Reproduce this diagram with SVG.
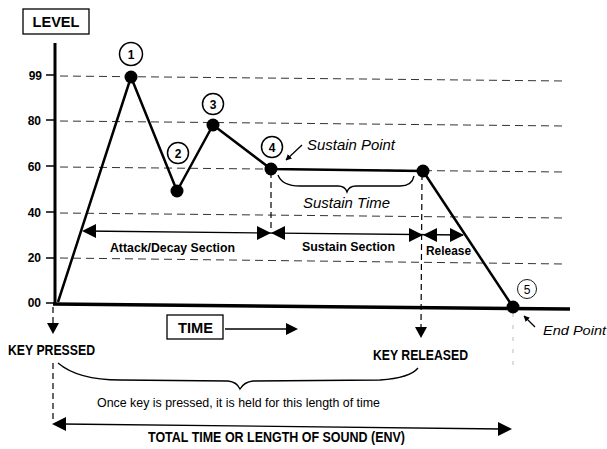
<svg xmlns="http://www.w3.org/2000/svg" width="607" height="449" viewBox="0 0 607 449">
<defs>
<style>
.t{font-family:"Liberation Sans",Arial,sans-serif;fill:#000}
.b{font-weight:bold}
.i{font-style:italic}
.grid{stroke:#333;stroke-width:1;stroke-dasharray:8 5;fill:none}
.vd{stroke:#000;stroke-width:1.2;stroke-dasharray:6 4;fill:none}
.env{stroke:#000;stroke-width:2.5;fill:none;stroke-linejoin:round}
.ln{stroke:#000;stroke-width:1.3;fill:none}
.dot{fill:#000}
.cn{fill:#fff;stroke:#000;stroke-width:1.5}
.tri{fill:#000}
</style>
<marker id="ah" viewBox="0 0 10 10" refX="9" refY="5" markerWidth="6" markerHeight="6" orient="auto-start-reverse" markerUnits="userSpaceOnUse">
<path d="M0,0 L10,5 L0,10 Z" fill="#000"/>
</marker>
</defs>
<rect width="607" height="449" fill="#fff"/>

<g id="axes">
<line x1="55" y1="43" x2="55" y2="305" stroke="#000" stroke-width="3"/>
<line x1="53" y1="304" x2="570" y2="309" stroke="#000" stroke-width="3.5"/>
<g stroke="#000" stroke-width="1.5">
<line x1="46" y1="75" x2="54" y2="75"/>
<line x1="46" y1="120" x2="54" y2="120"/>
<line x1="46" y1="166" x2="54" y2="166"/>
<line x1="46" y1="212" x2="54" y2="212"/>
<line x1="46" y1="258" x2="54" y2="258"/>
<line x1="46" y1="303" x2="54" y2="303"/>
</g>
<g class="t b" font-size="12" text-anchor="end">
<text x="42" y="80">99</text>
<text x="41" y="125">80</text>
<text x="41" y="171">60</text>
<text x="41" y="217">40</text>
<text x="41" y="262">20</text>
<text x="41" y="307">00</text>
</g>
<g class="grid">
<line x1="60" y1="76" x2="565" y2="81"/>
<line x1="60" y1="121" x2="565" y2="126"/>
<line x1="60" y1="167" x2="564" y2="172"/>
<line x1="60" y1="213" x2="564" y2="218"/>
<line x1="60" y1="258" x2="564" y2="264"/>
</g>
</g>

<g id="level-box">
<rect x="23" y="9" width="66" height="25" fill="#fff" stroke="#000" stroke-width="1.3"/>
<text class="t b" x="56" y="27" font-size="14" text-anchor="middle" textLength="47" lengthAdjust="spacingAndGlyphs">LEVEL</text>
</g>

<g id="connectors">
<polyline class="env" points="58,302 131,77 177,191 213,125 271,169 423,171 513,307"/>
<!-- vertical dashed guides -->
<line class="vd" x1="271" y1="172" x2="271" y2="228"/>
<line class="vd" x1="422" y1="174" x2="421" y2="328"/>
<line class="vd" x1="53" y1="307" x2="53" y2="323"/>
<line class="vd" x1="53" y1="363" x2="53" y2="420"/>
<line x1="513" y1="313" x2="513" y2="370" stroke="#bbb" stroke-width="1" stroke-dasharray="4 8"/>
<!-- section arrows -->
<line class="ln" x1="84" y1="231" x2="463" y2="235"/>
<path class="tri" d="M82,231 L96,224 L96,238 Z"/>
<path class="tri" d="M271,233 L257,226 L257,240 Z"/>
<path class="tri" d="M271,233 L285,226 L285,240 Z"/>
<path class="tri" d="M423,235 L409,228 L409,242 Z"/>
<path class="tri" d="M423,235 L437,228 L437,242 Z"/>
<path class="tri" d="M464,235 L450,228 L450,242 Z"/>
<!-- sustain point pointer -->
<line class="ln" x1="302" y1="145" x2="286" y2="160" marker-end="url(#ah)"/>
<!-- end point pointer -->
<line class="ln" x1="535" y1="327" x2="524" y2="316" marker-end="url(#ah)"/>
<!-- sustain time brace -->
<path class="ln" d="M278,175 Q282,186 300,186 L338,186 Q345,186 347,192 Q349,186 356,186 L400,186 Q412,186 414,176"/>
<!-- key pressed arrow -->
<path class="tri" d="M47,323 L59,323 L53,334 Z"/>
<!-- key released arrow -->
<path class="tri" d="M415,327 L427,327 L421,338 Z"/>
<!-- time arrow -->
<line class="ln" x1="225" y1="329" x2="288" y2="329"/>
<path class="tri" d="M298,329 L286,323 L286,335 Z"/>
<!-- hold brace -->
<path class="ln" d="M58,363 Q78,380 120,380 L228,381 Q237,382 240,389 Q244,382 253,381 L380,380 Q410,378 418,368"/>
<!-- total time arrow -->
<line class="ln" x1="62" y1="424" x2="502" y2="429"/>
<path class="tri" d="M52,424 L66,417 L66,431 Z"/>
<path class="tri" d="M512,429 L498,422 L498,436 Z"/>
</g>

<g id="p1"><circle class="dot" cx="131" cy="77" r="6.5"/><circle class="cn" cx="131" cy="54" r="11.5"/><text class="t b" x="131" y="58.5" font-size="12" text-anchor="middle">1</text></g>
<g id="p2"><circle class="dot" cx="177" cy="191" r="6.5"/><circle class="cn" cx="178" cy="153" r="10.5"/><text class="t b" x="178" y="157.5" font-size="12" text-anchor="middle">2</text></g>
<g id="p3"><circle class="dot" cx="213" cy="125" r="6.5"/><circle class="cn" cx="213" cy="104" r="10.5"/><text class="t b" x="213" y="108.5" font-size="12" text-anchor="middle">3</text></g>
<g id="p4"><circle class="dot" cx="271" cy="169" r="6.5"/><circle class="cn" cx="272" cy="147" r="10.5"/><text class="t b" x="272" y="151.5" font-size="12" text-anchor="middle">4</text></g>
<g id="p-release"><circle class="dot" cx="423" cy="171" r="6.5"/></g>
<g id="p5"><circle class="dot" cx="513" cy="307" r="6.5"/><circle cx="527" cy="289" r="9.5" fill="#fff" stroke="#000" stroke-width="0.9"/><text class="t" x="527" y="293.5" font-size="12" text-anchor="middle">5</text></g>

<g id="labels">
<text class="t i" x="307" y="150" font-size="14" textLength="88" lengthAdjust="spacingAndGlyphs">Sustain Point</text>
<text class="t i" x="303" y="208" font-size="14" textLength="87" lengthAdjust="spacingAndGlyphs">Sustain Time</text>
<text class="t b" x="110" y="252" font-size="13" textLength="125" lengthAdjust="spacingAndGlyphs">Attack/Decay Section</text>
<text class="t b" x="302" y="251" font-size="13" textLength="93" lengthAdjust="spacingAndGlyphs">Sustain Section</text>
<text class="t b" x="426" y="255" font-size="12" textLength="45" lengthAdjust="spacingAndGlyphs">Release</text>
<text class="t i" x="543" y="335" font-size="13" textLength="63" lengthAdjust="spacingAndGlyphs">End Point</text>
<text class="t b" x="8" y="355" font-size="15" textLength="87" lengthAdjust="spacingAndGlyphs">KEY PRESSED</text>
<text class="t b" x="373" y="360" font-size="15" textLength="95" lengthAdjust="spacingAndGlyphs">KEY RELEASED</text>
<text class="t" x="97" y="407" font-size="13" textLength="283" lengthAdjust="spacingAndGlyphs">Once key is pressed, it is held for this length of time</text>
<text class="t b" x="148" y="442" font-size="14" textLength="257" lengthAdjust="spacingAndGlyphs">TOTAL TIME OR LENGTH OF SOUND (ENV)</text>
</g>

<g id="time-box">
<rect x="167" y="315" width="56" height="24" fill="#fff" stroke="#000" stroke-width="1.3"/>
<text class="t b" x="178" y="333" font-size="14" textLength="35" lengthAdjust="spacingAndGlyphs">TIME</text>
</g>
</svg>
